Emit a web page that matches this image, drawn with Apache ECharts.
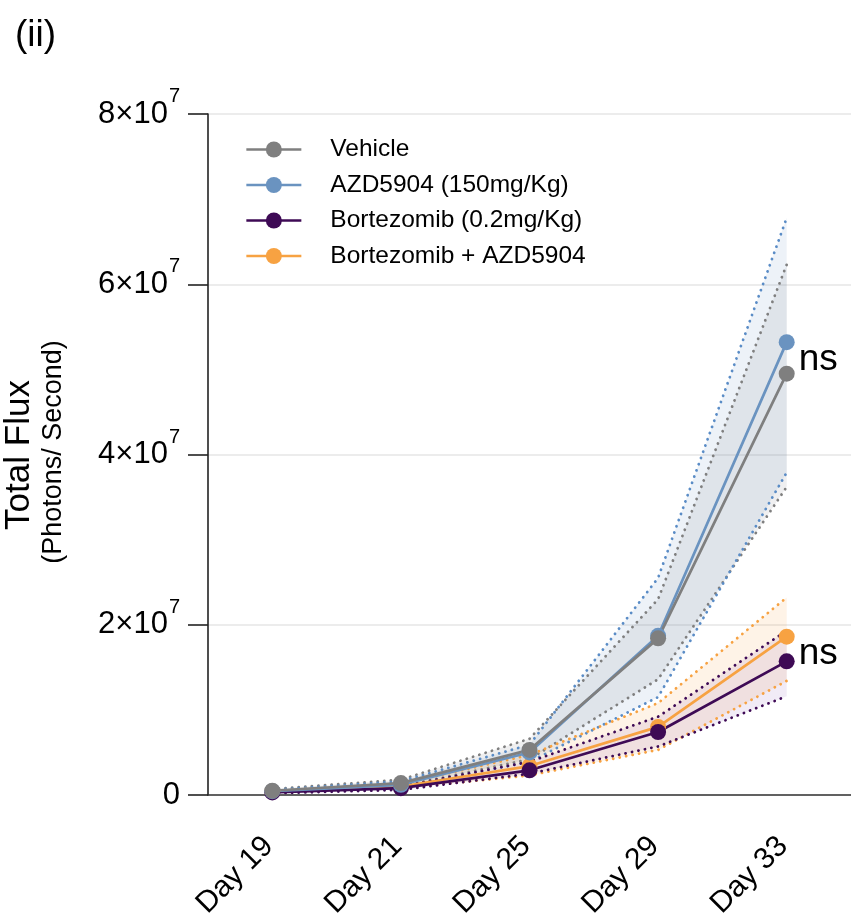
<!DOCTYPE html>
<html>
<head>
<meta charset="utf-8">
<script src="https://cdn.jsdelivr.net/npm/echarts@6/dist/echarts.min.js"></script>
<style>
  html, body { margin: 0; padding: 0; background: #fff; }
  #chart { width: 851px; height: 922px; }
</style>
</head>
<body>
<div id="chart"></div>
<script>
// Imaging time points
const days = ['Day 19', 'Day 21', 'Day 25', 'Day 29', 'Day 33'];

// Group means (photons / second)
const vehicleMean = [0.5e6, 1.4e6, 5.3e6, 18.4e6, 49.5e6];
const azdMean     = [0.45e6, 1.2e6, 5.0e6, 18.7e6, 53.2e6];
const bortMean    = [0.3e6, 0.8e6, 2.9e6, 7.4e6, 15.7e6];
const comboMean   = [0.4e6, 1.0e6, 3.4e6, 8.0e6, 18.6e6];

// Error envelopes (upper / lower bounds)
const vehicleUpper = [0.7e6, 1.8e6, 6.6e6, 23.0e6, 62.3e6];
const vehicleLower = [0.4e6, 1.0e6, 4.2e6, 13.6e6, 36.2e6];
const azdUpper     = [0.6e6, 1.6e6, 5.9e6, 25.5e6, 67.8e6];
const azdLower     = [0.3e6, 0.9e6, 3.9e6, 11.5e6, 37.9e6];
const bortUpper    = [0.4e6, 1.0e6, 3.9e6, 9.2e6, 19.3e6];
const bortLower    = [0.2e6, 0.6e6, 2.5e6, 5.7e6, 11.6e6];
const comboUpper   = [0.5e6, 1.3e6, 4.7e6, 10.8e6, 23.2e6];
const comboLower   = [0.3e6, 0.8e6, 2.3e6, 5.3e6, 13.4e6];

// Y axis ticks
const yTicks = [0, 2e7, 4e7, 6e7, 8e7];

const names = ['Vehicle', 'AZD5904 (150mg/Kg)', 'Bortezomib (0.2mg/Kg)', 'Bortezomib + AZD5904'];
const colors = {
  vehicle: '#7f7f7f',
  azd: '#6a93c0',
  bort: '#3e0a55',
  combo: '#f7a242'
};

const FONT = "'Liberation Sans', Arial, Helvetica, sans-serif";

function band(key, lower, upper, color, fill) {
  const dotted = { color: color, width: 2.8, type: [0.1, 6.5], cap: 'round' };
  return [
    {
      type: 'line', name: key + '-lo', data: lower, stack: key,
      symbol: 'none', lineStyle: dotted, silent: true, z: 1
    },
    {
      type: 'line', name: key + '-hi', data: upper.map((u, i) => u - lower[i]), stack: key,
      symbol: 'none', lineStyle: dotted, areaStyle: { color: fill, opacity: 1 },
      silent: true, z: 1
    }
  ];
}

function meanLine(name, data, color, nsLabel) {
  return {
    type: 'line', name: name,
    data: data.map((v, i) => {
      if (i === data.length - 1 && nsLabel) {
        return {
          value: v,
          label: {
            show: true, formatter: 'ns', position: 'right', distance: 4,
            offset: nsLabel, fontSize: 37, color: '#000', fontFamily: FONT
          }
        };
      }
      return v;
    }),
    symbol: 'circle', symbolSize: 16,
    lineStyle: { color: color, width: 2.7 },
    itemStyle: { color: color },
    z: 3
  };
}

const series = [].concat(
  band('veh', vehicleLower, vehicleUpper, colors.vehicle, 'rgba(128,128,140,0.13)'),
  band('azd', azdLower, azdUpper, '#5a8cc6', 'rgba(110,150,200,0.12)'),
  band('combo', comboLower, comboUpper, colors.combo, 'rgba(247,162,66,0.13)'),
  band('bort', bortLower, bortUpper, colors.bort, 'rgba(120,60,170,0.10)'),
  [
    meanLine(names[3], comboMean, colors.combo),
    meanLine(names[2], bortMean, colors.bort, [0, -8]),
    meanLine(names[1], azdMean, colors.azd),
    meanLine(names[0], vehicleMean, colors.vehicle, [0, -14])
  ]
);

const chart = echarts.init(document.getElementById('chart'), null, { renderer: 'canvas' });

chart.setOption({
  animation: false,
  backgroundColor: '#fff',
  textStyle: { fontFamily: FONT },
  grid: { left: 208, right: 0, top: 114, bottom: 127, containLabel: false },
  legend: {
    data: names,
    orient: 'vertical',
    left: 240, top: 132,
    itemWidth: 55, itemHeight: 20, itemGap: 10.5,
    itemStyle: { borderWidth: 0 },
    lineStyle: { width: 2.7 },
    textStyle: { fontSize: 24.5, color: '#000', fontFamily: FONT, padding: [0, 0, 0, 24] }
  },
  xAxis: {
    type: 'category',
    data: days,
    boundaryGap: true,
    axisLine: { lineStyle: { color: '#333', width: 1.6 } },
    axisTick: { alignWithLabel: true, length: 20, lineStyle: { color: '#333', width: 1.6 } },
    axisLabel: { rotate: 45, margin: 43, fontSize: 30, color: '#000', fontFamily: FONT, padding: [0, 5, 0, 0] },
    splitLine: { show: false }
  },
  yAxis: {
    type: 'value',
    min: yTicks[0], max: yTicks[yTicks.length - 1], interval: yTicks[1] - yTicks[0],
    axisLine: { show: true, lineStyle: { color: '#222', width: 1.6 } },
    axisTick: { show: true, length: 20, lineStyle: { color: '#222', width: 1.6 } },
    splitLine: { show: true, lineStyle: { color: '#e6e6e6', width: 1.5 } },
    axisLabel: {
      margin: 28, color: '#000',
      formatter: function (v) {
        if (v === 0) return '{b|0}';
        return '{b|' + (v / 1e7) + '×10}{s|7}';
      },
      rich: {
        b: { fontSize: 31, fontFamily: FONT, color: '#000', lineHeight: 31, verticalAlign: 'middle' },
        s: { fontSize: 20, fontFamily: FONT, color: '#000', lineHeight: 20, verticalAlign: 'middle', padding: [0, 0, 35, 1] }
      }
    }
  },
  graphic: [
    {
      type: 'text', left: 15, top: 17,
      style: { text: '(ii)', fontSize: 37, fill: '#000', fontFamily: FONT }
    },
    {
      type: 'text', x: 19, y: 455, rotation: Math.PI / 2,
      style: { text: 'Total Flux', fontSize: 35, fill: '#000', fontFamily: FONT, align: 'center', verticalAlign: 'middle' }
    },
    {
      type: 'text', x: 54, y: 452, rotation: Math.PI / 2,
      style: { text: '(Photons/ Second)', fontSize: 27, fill: '#000', fontFamily: FONT, align: 'center', verticalAlign: 'middle' }
    }
  ],
  series: series
});
</script>
</body>
</html>
